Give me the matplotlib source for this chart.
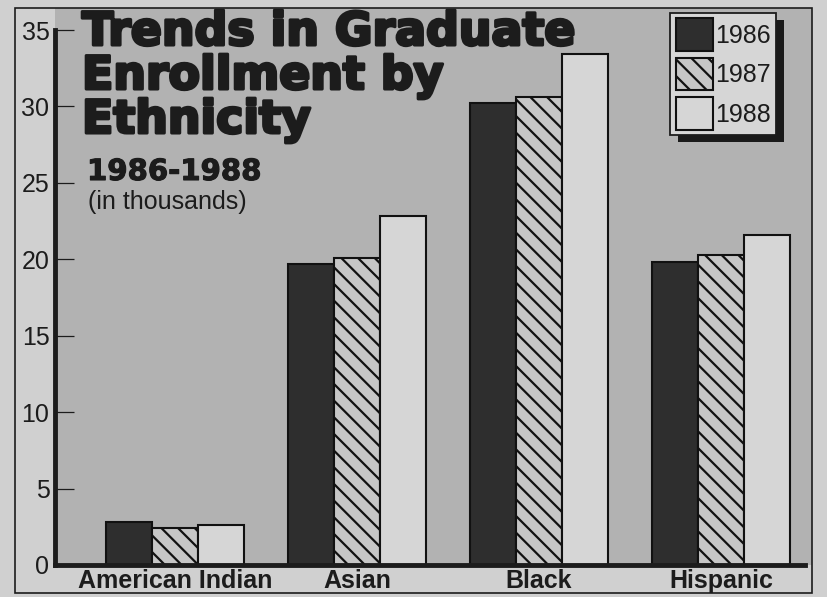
import numpy as np
import matplotlib
matplotlib.use("Agg")
import matplotlib.pyplot as plt
import matplotlib.patheffects as pe
from matplotlib.patches import Rectangle

# ---- data ----
categories = ["American Indian", "Asian", "Black", "Hispanic"]
years = ["1986", "1987", "1988"]
v1986 = [2.8, 19.7, 30.2, 19.8]
v1987 = [2.4, 20.1, 30.6, 20.3]
v1988 = [2.6, 22.8, 33.4, 21.6]
yticks = [0, 5, 10, 15, 20, 25, 30, 35]

# ---- style ----
W, H = 827, 597
DPI = 100
fig_bg = "#d0d0d0"
plot_bg = "#b2b2b2"
ink = "#1c1c1c"
plt.rcParams["hatch.linewidth"] = 1.6
plt.rcParams["font.family"] = ["Liberation Sans", "DejaVu Sans"]

fig = plt.figure(figsize=(W / DPI, H / DPI), dpi=DPI, facecolor=fig_bg)

def fx(px):
    return px / W

def fy(py):
    return 1 - py / H

ax_l, ax_r, ax_t, ax_b = 55, 812, 8, 565
ax = fig.add_axes([fx(ax_l), fy(ax_b), fx(ax_r - ax_l), (ax_b - ax_t) / H])
ax.set_facecolor(plot_bg)

# scale: 0 at y=565, 35 at y=30
ppu = (565 - 30) / 35.0
ax.set_ylim(0, (ax_b - ax_t) / ppu)
grp = 182.0
x0 = 175.0
ax.set_xlim((ax_l - x0) / grp, (ax_r - x0) / grp)

x = np.arange(len(categories))
bw = 46 / grp
styles = [
    dict(facecolor="#2e2e2e", edgecolor="#111111", hatch=None),
    dict(facecolor="#c6c6c6", edgecolor="#111111", hatch="\\\\"),
    dict(facecolor="#d6d6d6", edgecolor="#111111", hatch=None),
]
series = [v1986, v1987, v1988]
for i, (vals, st, yr) in enumerate(zip(series, styles, years)):
    ax.bar(x + (i - 1) * bw, vals, width=bw, linewidth=1.5, label=yr,
           zorder=3, **st)

# axes
for s in ["top", "right"]:
    ax.spines[s].set_visible(False)
ax.spines["left"].set_linewidth(3.5)
ax.spines["bottom"].set_linewidth(3.5)
ax.spines["left"].set_color(ink)
ax.spines["bottom"].set_color(ink)
ax.spines["left"].set_bounds(0, 35)
ax.spines["bottom"].set_bounds(ax.get_xlim()[0], (805 - x0) / grp)
ax.spines["bottom"].set_zorder(4)

ax.set_yticks(yticks)
ax.set_yticklabels([str(t) for t in yticks])
ax.tick_params(axis="y", direction="in", length=14, width=0.9, color=ink,
               labelsize=18, labelcolor=ink, pad=4)
ax.set_xticks(x)
ax.set_xticklabels(categories, fontweight="bold")
ax.tick_params(axis="x", length=0, labelsize=18, labelcolor=ink, pad=3)

# legend
leg = ax.legend(loc="upper left", bbox_to_anchor=(fx(670), fy(13)),
                bbox_transform=fig.transFigure, fontsize=18,
                handlelength=1.5, handleheight=1.62, handletextpad=0.08,
                labelspacing=0.28, borderpad=0.22, borderaxespad=0,
                fancybox=False, framealpha=1, facecolor="#d6d6d6",
                edgecolor=ink)
leg.get_frame().set_linewidth(1.3)
for t in leg.get_texts():
    t.set_color(ink)

# title texts
stroke = [pe.withStroke(linewidth=2.2, foreground=ink)]
title_lines = ["Trends in Graduate", "Enrollment by", "Ethnicity"]
baselines = [45, 89, 133]
for line, b in zip(title_lines, baselines):
    fig.text(fx(82), fy(b), line, fontsize=33, fontweight="bold",
             family="DejaVu Sans", color=ink, va="baseline", ha="left",
             path_effects=stroke)
fig.text(fx(87), fy(180), "1986-1988", fontsize=21, fontweight="bold",
         family="DejaVu Sans", color=ink, va="baseline", ha="left",
         path_effects=[pe.withStroke(linewidth=0.8, foreground=ink)])
fig.text(fx(88), fy(209), "(in thousands)", fontsize=18,
         color=ink, va="baseline", ha="left")

# outer frame
fig.patches.append(Rectangle((fx(15), fy(593)), fx(812 - 15), (593 - 8) / H,
                             transform=fig.transFigure, fill=False,
                             edgecolor=ink, linewidth=1.2, zorder=10))

# legend shadow
fig.canvas.draw()
bb = leg.get_window_extent()
inv = ax.transAxes.inverted()
(sx0, sy0) = inv.transform((bb.x0 + 8, bb.y0 - 7))
(sx1, sy1) = inv.transform((bb.x1 + 8, bb.y1 - 7))
ax.add_patch(Rectangle((sx0, sy0), sx1 - sx0, sy1 - sy0, transform=ax.transAxes,
                       facecolor="#1a1a1a", edgecolor="none", zorder=4.9,
                       clip_on=False))

fig.savefig("out.png", dpi=DPI, facecolor=fig_bg)
